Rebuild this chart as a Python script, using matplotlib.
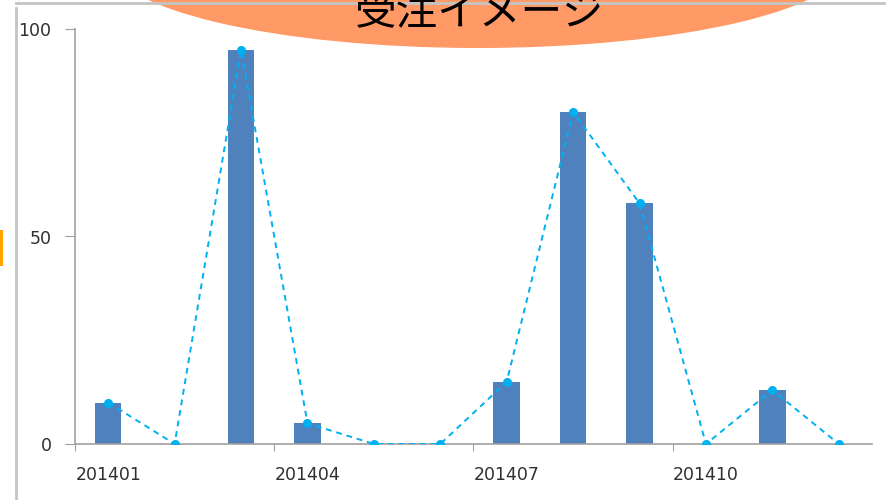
import matplotlib
matplotlib.use("Agg")
import matplotlib.pyplot as plt
from matplotlib.patches import Ellipse, Rectangle

plt.rcParams["font.family"] = ["Liberation Sans Narrow", "DejaVu Sans Condensed", "DejaVu Sans"]

months = ["201401", "201402", "201403", "201404", "201405", "201406",
          "201407", "201408", "201409", "201410", "201411", "201412"]
orders = [10, 0, 95, 5, 0, 0, 15, 80, 58, 0, 13, 0]
title = "受注イメージ"

W, H = 886, 500
fig = plt.figure(figsize=(W / 100, H / 100), dpi=100)

# main chart area in pixel terms
left, right, top, bottom = 75, 872, 29, 444
ax = fig.add_axes([left / W, 1 - bottom / H, (right - left) / W, (bottom - top) / H])

x = list(range(len(months)))
ax.bar(x, orders, width=0.4, color="#4F81BD", zorder=2)
ax.plot(x, orders, linestyle=(0, (3, 2.5)), color="#00B0F0", linewidth=1.4,
        marker="o", markersize=5.5, zorder=3)

ax.set_xlim(-0.5, len(months) - 0.5)
ax.set_ylim(0, 100)
ax.set_yticks([0, 50, 100])
ax.set_yticklabels(["0", "50", "100"], fontsize=12.5, color="#303030")

# tick marks between category groups, labels on every third month
ax.set_xticks([-0.5, 2.5, 5.5, 8.5])
ax.set_xticklabels([])
ax.set_xticks(x[::3], minor=True)
ax.set_xticklabels(months[::3], minor=True, fontsize=12.5, color="#303030")
ax.tick_params(axis="x", which="minor", length=0, pad=16)
ax.tick_params(axis="x", which="major", length=5, color="#A0A0A0")
ax.tick_params(axis="y", length=7, color="#A0A0A0", pad=10)

for side in ("top", "right"):
    ax.spines[side].set_visible(False)
for side in ("left", "bottom"):
    ax.spines[side].set_color("#A0A0A0")
    ax.spines[side].set_linewidth(1.2)

# overlay: slide frame, callout ellipse and title
ov = fig.add_axes([0, 0, 1, 1], zorder=5)
ov.set_xlim(0, W)
ov.set_ylim(H, 0)
ov.axis("off")
ov.plot([16, 16], [8, H], color="#C4C4C4", linewidth=2)
ov.plot([16, W], [3, 3], color="#C4C4C4", linewidth=2)
ov.add_patch(Rectangle((0, 230), 3, 36, color="#FFA500", lw=0))
ov.add_patch(Ellipse((478, -40), 740, 176, color="#FF9966", lw=0))
ov.text(480, 13, title, fontsize=30, color="black", ha="center", va="center",
        family=["Noto Sans CJK JP", "DejaVu Sans"])

fig.savefig("out.png", dpi=100)
